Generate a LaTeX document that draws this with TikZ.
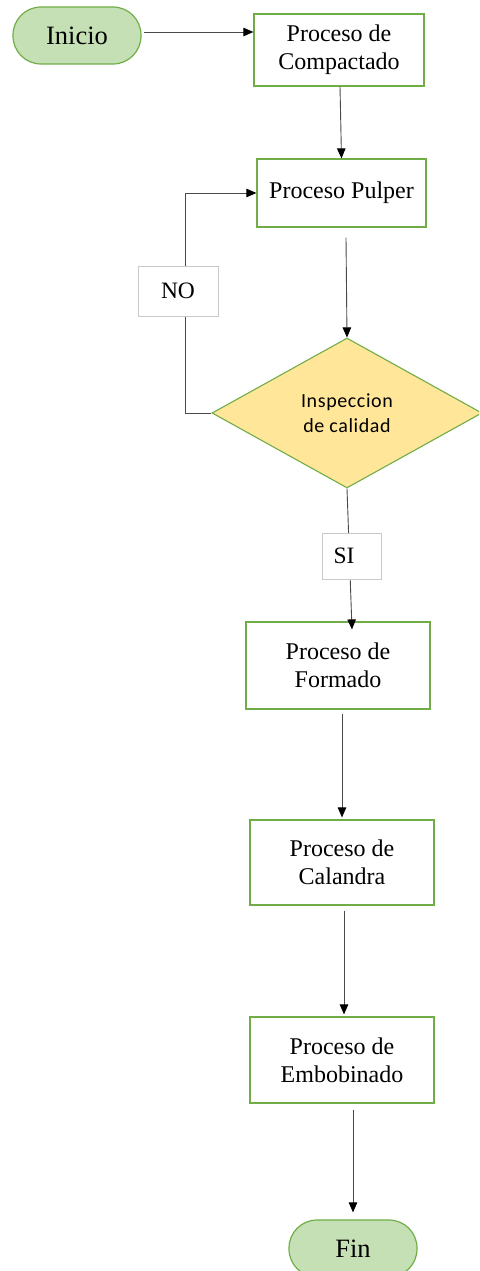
\documentclass[tikz,border=0pt]{standalone}
\usepackage{fontspec}
\setmainfont{Liberation Serif}
\newfontfamily\calib[LetterSpace=3]{Carlito}
\usetikzlibrary{shapes.geometric,arrows.meta,calc}
\definecolor{gborder}{HTML}{70AD47}
\definecolor{gfill}{HTML}{C5E0B4}
\definecolor{yfill}{HTML}{FFE699}
\definecolor{lblgray}{HTML}{C9C9C9}
\definecolor{conncol}{HTML}{4A4A4A}
\tikzset{
  term/.style={draw=gborder, fill=gfill, line width=1.2pt, rounded corners=28pt,
    minimum width=128pt, minimum height=57pt, inner sep=0pt,
    font=\fontsize{26.5}{30}\selectfont},
  proc/.style={draw=gborder, fill=white, line width=1.2pt, inner sep=0pt, align=center,
    font=\fontsize{24}{28}\selectfont},
  decis/.style={diamond, draw=gborder, fill=yfill, line width=1.1pt, inner sep=0pt,
    minimum width=270pt, minimum height=150pt, align=center,
    font=\calib\fontsize{20}{25}\selectfont},
  lbl/.style={draw=lblgray, fill=white, line width=1pt, inner sep=0pt,
    font=\fontsize{23.5}{28}\selectfont},
  conn/.style={draw=conncol, line width=0.9pt, -{Triangle[length=10pt,width=8.5pt,color=black]}},
  line/.style={draw=conncol, line width=0.9pt}
}
\begin{document}
\begin{tikzpicture}[x=1pt,y=-1pt]
\useasboundingbox (0,0) rectangle (479,1271);
\clip (0,0) rectangle (479,1271);

\node[term] (inicio) at (77,35.5) {Inicio};
\node[proc, minimum width=170pt, minimum height=72pt] (comp) at (339,50) {Proceso de\\Compactado};
\node[proc, minimum width=169pt, minimum height=68pt] (pulp) at (341.5,193) {Proceso Pulper};
\node[decis] (dia) at (347,413) {Inspeccion\\de calidad};
\node[proc, minimum width=184pt, minimum height=87pt] (form) at (338,665.5) {Proceso de\\Formado};
\node[proc, minimum width=184pt, minimum height=85pt] (cal) at (342,862.5) {Proceso de\\Calandra};
\node[proc, minimum width=184pt, minimum height=86pt] (emb) at (342,1060) {Proceso de\\Embobinado};
\node[term] (fin) at (353,1248.5) {Fin};

\coordinate (nox) at (185,300);

\draw[conn] ([xshift=2pt,yshift=3.5pt]inicio.east) -- ([yshift=3.5pt]inicio.east -| comp.west);
\draw[conn] ([xshift=1pt]comp.south) -- (pulp.north);
\draw[conn] ([xshift=4.5pt,yshift=-10pt]pulp.south) -- (dia.north);
\draw[line] (dia.west) -| (nox);
\draw[conn] (nox) |- (pulp.west);
\draw[conn] (dia.south) -- ([xshift=14pt,yshift=-8pt]form.north);
\draw[conn] ([yshift=-4pt]form.south -| cal.north) -- ([yshift=2pt]cal.north);
\draw[conn] ([xshift=2pt,yshift=-5pt]cal.south) -- ([xshift=2pt,yshift=2pt]emb.north);
\draw[conn] ([yshift=-6pt]emb.south -| fin.north) -- ([yshift=7pt]fin.north);

\node[lbl, minimum width=80pt, minimum height=50pt] (no) at (178,291) {NO};
\node[lbl, minimum width=59pt, minimum height=46pt, text width=59pt, align=left] (si) at (352,556) {\hspace*{11pt}SI};
\end{tikzpicture}
\end{document}
